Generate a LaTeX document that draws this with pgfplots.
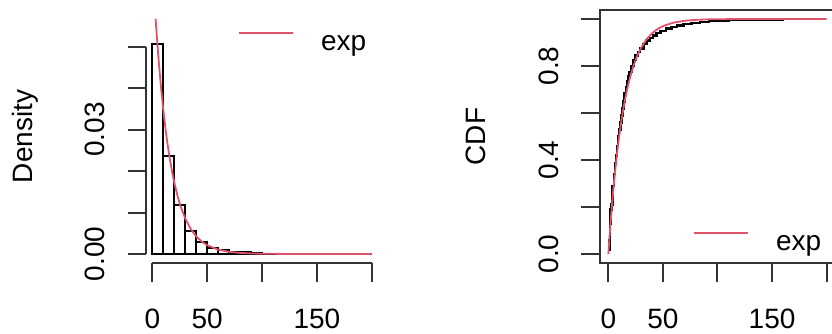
\documentclass[border=0pt]{standalone}
\usepackage{pgfplots}
\pgfplotsset{compat=1.18}
\usepackage{fontspec}
\setmainfont{Liberation Sans}
\definecolor{rred}{HTML}{DF536B}
\definecolor{axgray}{gray}{0.2}
\newcommand{\rfont}{\fontsize{14}{16.5}\selectfont}
\pgfplotsset{
  rstyle/.style={
    scale only axis,
    font=\rfont,
    tick label style={font=\rfont},
    label style={font=\rfont},
    scaled x ticks=false, scaled y ticks=false,
    /pgf/number format/assume math mode=true,
    tick align=outside,
    major tick length=9.25pt,
    tick style={axgray, line width=1pt},
    xticklabel style={anchor=base, inner sep=0pt},
    yticklabel style={rotate=90, anchor=base, inner sep=0pt},
    xticklabel shift=23.25pt,
    yticklabel shift=11.5pt,
    every axis y label/.style={at={([xshift=-57pt]rel axis cs:0,0.5)}, rotate=90, anchor=base},
    legend style={draw=none, fill=none, inner sep=0pt, outer sep=0pt, column sep=13.5pt, nodes={inner sep=0pt}, font=\rfont},
    legend image code/.code={\draw[##1] (0pt,6.2pt) -- (27pt,6.2pt);},
  }
}
\begin{document}
\rfont
\begin{tikzpicture}
% ---------- left: histogram with fitted exponential density ----------
\begin{axis}[rstyle,
  at={(73.2pt,34.8pt)}, anchor=south west,
  width=117.05pt, height=127pt,
  xmin=-5.4, xmax=208, ymin=-0.00227, ymax=0.059,
  axis x line*=bottom, axis y line*=left,
  axis line style={draw=none},
  xtick={0,50,100,150,200}, xticklabels={0,50,,150,},
  ytick={0,0.01,0.02,0.03,0.04,0.05}, yticklabels={0.00,,,0.03,,},
  ylabel={Density},
  clip=false,
  legend style={at={(axis cs:78.4,0.04807)}, anchor=south west},
]
\addplot[ybar interval, draw=black, fill=none, line width=1pt, forget plot] coordinates {
 (0,0.0506) (10,0.0236) (20,0.0118) (30,0.0055) (40,0.0030) (50,0.0015)
 (60,0.0010) (70,0.0006) (80,0.0004) (90,0.0002) (100,0.0001) (110,0)
 (120,0) (130,0) (140,0) (150,0) (160,0) (170,0) (180,0) (190,0) (200,0)
};
\addplot[rred, line width=0.9pt] coordinates {
 (3,0.05674) (4,0.05291) (5,0.04933) (6,0.04599) (8,0.03998) (10,0.03476)
 (12,0.03022) (14,0.02627) (16,0.02284) (18,0.01986) (20,0.01726) (23,0.01399)
 (26,0.01134) (30,0.00857) (35,0.00604) (40,0.00426) (45,0.00300) (50,0.00211)
 (60,0.00105) (70,0.00052) (80,0.00026) (90,0.00013) (100,0.00006) (120,0.00002)
 (150,0) (200,0)
};
\addlegendentry{exp}
\draw[axgray, line width=1pt] (axis cs:0,-0.00227) -- (axis cs:200,-0.00227);
\draw[axgray, line width=1pt] (axis cs:-5.4,0) -- (axis cs:-5.4,0.05);
\end{axis}
% ---------- right: empirical CDF with fitted exponential CDF ----------
\begin{axis}[rstyle,
  at={(299.8pt,34.8pt)}, anchor=south west,
  width=117.9pt, height=126.9pt,
  xmin=-8, xmax=208, ymin=-0.04, ymax=1.04,
  axis line style={axgray, line width=1pt},
  xtick pos=left, ytick pos=left,
  xtick={0,50,100,150,200}, xticklabels={0,50,,150,},
  ytick={0,0.2,0.4,0.6,0.8,1}, yticklabels={0.0,,0.4,,0.8,},
  ylabel={CDF},
  legend style={at={(axis cs:77.8,-0.004)}, anchor=south west},
]
\addplot[const plot, black, line width=1.25pt, forget plot] coordinates {
 (0.8,0.02) (1.0,0.06) (1.5,0.13) (2.0,0.19) (3.0,0.21) (4.0,0.29) (5.0,0.34)
 (6.0,0.385) (7.0,0.42) (8.0,0.46) (9.0,0.50) (10,0.53) (11,0.56) (12,0.59)
 (13,0.62) (14,0.65) (15,0.685) (16,0.71) (17,0.735) (18,0.755) (19,0.775)
 (21,0.80) (23,0.825) (25,0.845) (27,0.86) (29,0.875) (32,0.893) (35,0.908)
 (38,0.92) (41,0.93) (44,0.94) (48,0.95) (53,0.96) (58,0.967) (63,0.973)
 (69,0.979) (76,0.984) (84,0.988) (92,0.991) (100,0.993) (110,0.995)
 (125,0.997) (140,0.998) (160,0.999) (175,1.0)
};
\addplot[rred, line width=0.9pt] coordinates {
 (0,0) (0.5,0.0344) (1,0.0676) (2,0.1306) (3,0.1894) (4,0.2442) (5,0.2953)
 (6,0.3430) (8,0.4288) (10,0.5034) (12,0.5683) (14,0.6247) (16,0.6737)
 (18,0.7163) (20,0.7534) (23,0.8001) (26,0.8380) (30,0.8775) (35,0.9137)
 (40,0.9392) (45,0.9571) (50,0.9698) (60,0.9850) (70,0.9926) (80,0.9963)
 (90,0.9982) (100,0.9991) (120,0.9998) (150,1.0) (200,1.0)
};
\addlegendentry{exp}
\end{axis}
\pgfresetboundingbox
\useasboundingbox (0,0) rectangle (416pt,166.5pt);
\end{tikzpicture}
\end{document}
